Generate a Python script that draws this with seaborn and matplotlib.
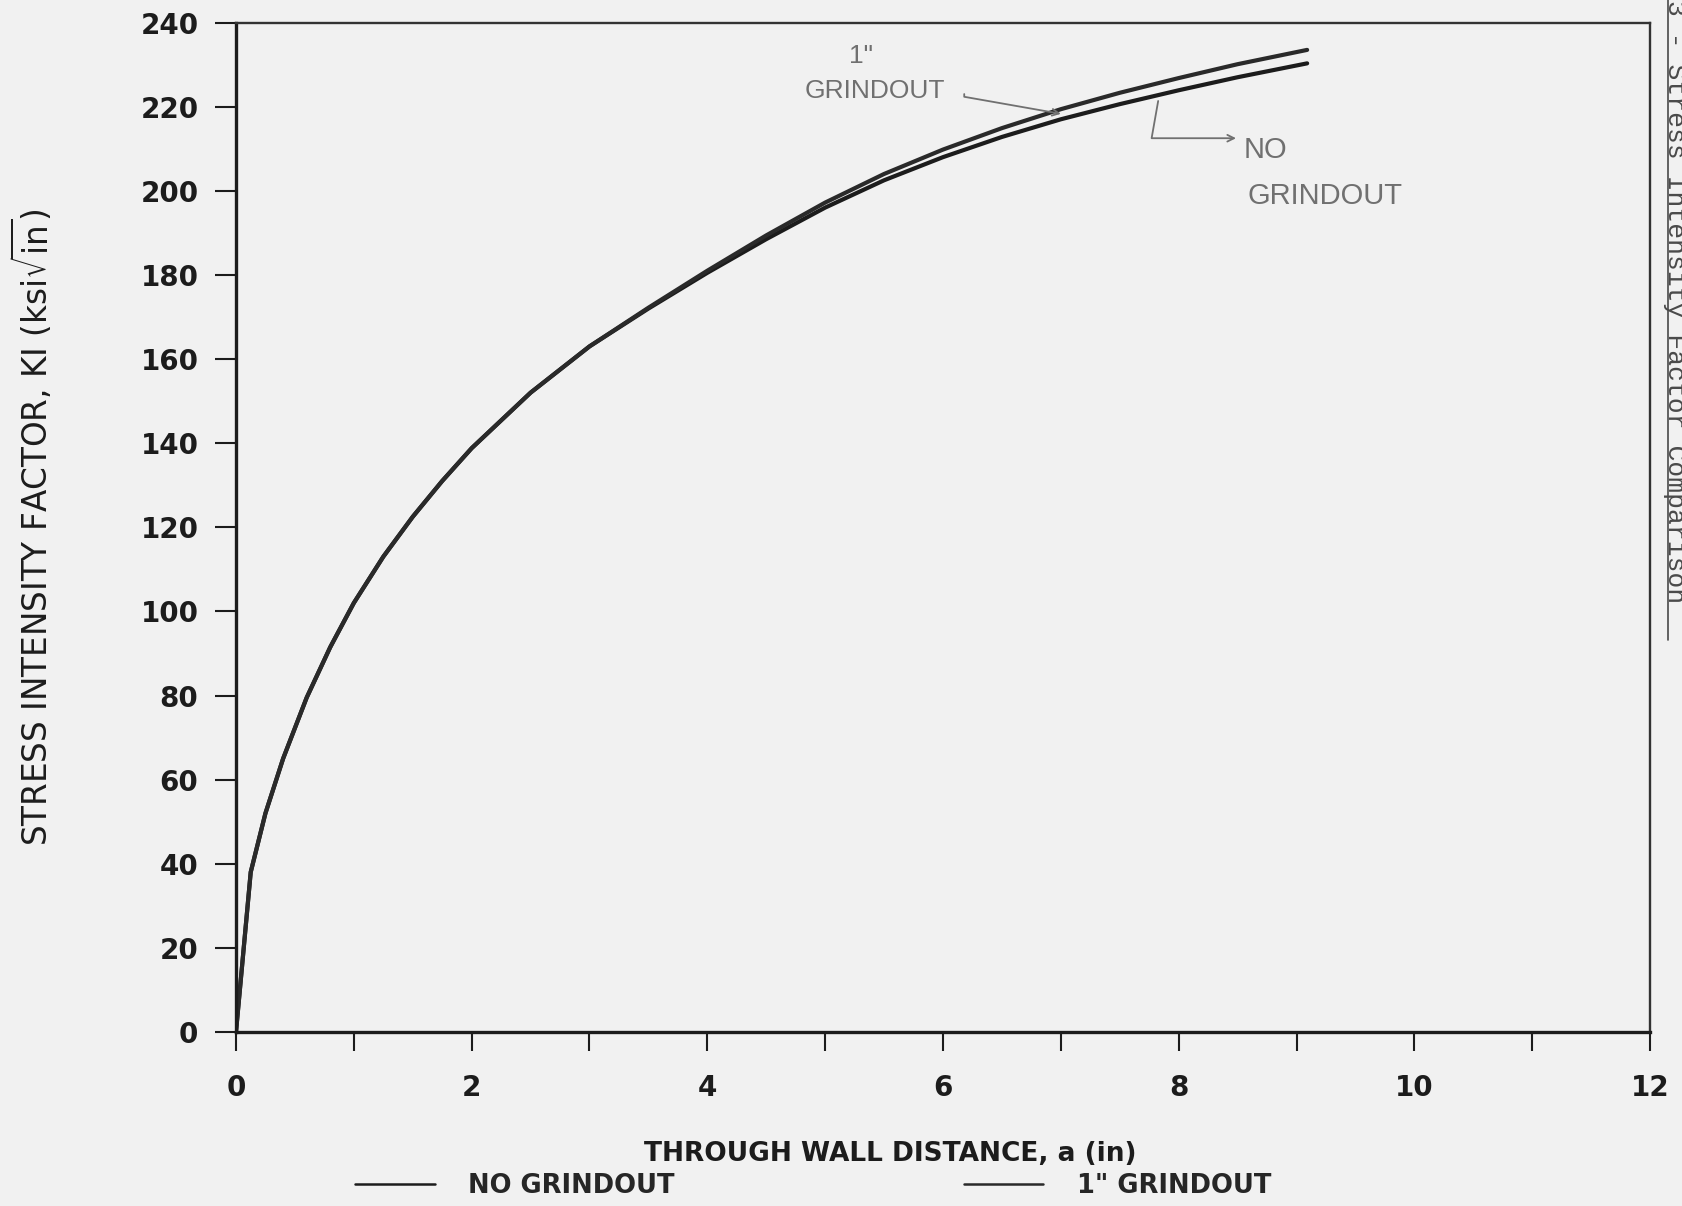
import matplotlib
matplotlib.use("Agg")
import matplotlib.pyplot as plt
import seaborn as sns
import pandas as pd
from matplotlib.lines import Line2D

# ---- data ----
depth_in = [0, 0.125, 0.25, 0.4, 0.6, 0.8, 1.0, 1.25, 1.5, 1.75, 2.0, 2.5, 3.0, 3.5,
            4.0, 4.5, 5.0, 5.5, 6.0, 6.5, 7.0, 7.5, 8.0, 8.5, 9.09]
k_no_grindout = [0, 38, 52, 65, 79.5, 91.5, 102, 113, 122.5, 131, 138.8, 152, 163, 172,
                 180.5, 188.5, 196, 202.5, 208, 212.8, 217, 220.6, 223.9, 227, 230.3]
k_1in_grindout = [0, 38, 52, 65, 79.5, 91.5, 102, 113, 122.5, 131, 138.8, 152, 163, 172.2,
                  181, 189.4, 197.2, 204, 209.8, 214.9, 219.4, 223.3, 226.8, 230.1, 233.5]
series_names = ["NO GRINDOUT", '1" GRINDOUT']
x_ticks = list(range(0, 13, 1))
x_tick_labels = ["0", "", "2", "", "4", "", "6", "", "8", "", "10", "", "12"]
y_ticks = list(range(0, 241, 20))

title_text = "FOR GRINDOUT WALL NOZZLE CORNER"
side_text = "3 - Stress Intensity Factor Comparison"
x_label = "THROUGH WALL DISTANCE, a (in)"
y_label = r"STRESS INTENSITY FACTOR, KI (ksi$\sqrt{\mathrm{in}}$)"

sns.set_theme(style="white")
plt.rcParams["font.family"] = ["DejaVu Sans"]

bg = "#f1f1f1"
ink = "#1c1c1c"
pencil = "#707070"

fig = plt.figure(figsize=(16.82, 12.06), dpi=100, facecolor=bg)
ax = fig.add_axes([0.1403, 0.1443, 0.8407, 0.837], facecolor=bg)

df = pd.concat([
    pd.DataFrame({"a": depth_in, "K": k_no_grindout, "case": series_names[0]}),
    pd.DataFrame({"a": depth_in, "K": k_1in_grindout, "case": series_names[1]}),
], ignore_index=True)

sns.lineplot(data=df, x="a", y="K", hue="case", hue_order=series_names,
             palette=[ink, "#2a2a2a"], linewidth=3.0, ax=ax, legend=False,
             estimator=None, sort=False)

ax.set_xlim(0, 12)
ax.set_ylim(0, 240)
ax.set_xticks(x_ticks)
ax.set_xticklabels(x_tick_labels)
ax.set_yticks(y_ticks)

for side in ["left", "bottom"]:
    ax.spines[side].set_linewidth(2.4)
    ax.spines[side].set_color(ink)
for side in ["top", "right"]:
    ax.spines[side].set_linewidth(1.7)
    ax.spines[side].set_color("#333333")

ax.tick_params(axis="y", direction="out", length=15, width=1.5, pad=12,
               colors=ink, labelsize=20, left=True)
ax.tick_params(axis="x", direction="out", length=14, width=1.5, pad=16,
               colors=ink, labelsize=20, bottom=True)
for lab in ax.get_yticklabels():
    lab.set_fontweight("bold")
for lab in ax.get_xticklabels():
    lab.set_fontweight("bold")

ax.set_xlabel(x_label, fontsize=19, fontweight="bold", color=ink)
ax.xaxis.set_label_coords(0.4625, -0.108)
ax.set_ylabel(y_label, fontsize=23.5, color=ink)
ax.yaxis.set_label_coords(-0.128, 0.5)

# legend
handles = [Line2D([], [], color=ink, lw=1.8), Line2D([], [], color="#2a2a2a", lw=1.8)]
fig.legend(handles, series_names, loc="center", bbox_to_anchor=(0.4834, 0.0165),
           ncol=2, frameon=False, handlelength=3.1, handletextpad=1.3,
           columnspacing=11.25, prop={"size": 18.5, "weight": "bold"})

# hand-written annotations
hand = dict(color=pencil, fontsize=19, family=["Liberation Sans", "DejaVu Sans"],
            ha="center", va="center")
ax.text(5.30, 232.0, '1"', **hand)
ax.text(5.42, 223.8, "GRINDOUT", **hand)
ax.annotate("", xy=(7.0, 218.3), xytext=(6.18, 223.0),
            arrowprops=dict(arrowstyle="->", color=pencil, lw=1.3,
                            shrinkA=0, shrinkB=0,
                            connectionstyle="angle,angleA=-90,angleB=-10,rad=0"))
ax.text(8.74, 209.8, "NO", **{**hand, "fontsize": 21})
ax.text(9.24, 198.8, "GRINDOUT", **{**hand, "fontsize": 21})
ax.annotate("", xy=(8.51, 212.5), xytext=(7.83, 222.0),
            arrowprops=dict(arrowstyle="->", color=pencil, lw=1.3,
                            connectionstyle="angle,angleA=-100,angleB=0,rad=0"))

# clipped page text
fig.text(0.527, 0.9959, title_text, ha="center", va="bottom", fontsize=18,
         fontweight="bold", color="#2a2a2a")
fig.text(0.9887, 1.0, side_text, rotation=-90, ha="left", va="top",
         fontsize=19, color="#4a4a4a", family=["Liberation Mono", "DejaVu Sans Mono"])
fig.add_artist(Line2D([0.9917, 0.9917], [1 - 640 / 1206, 1.0],
                      transform=fig.transFigure, color="#4a4a4a", lw=1.2))

fig.savefig("out.png", dpi=100, facecolor=bg)
